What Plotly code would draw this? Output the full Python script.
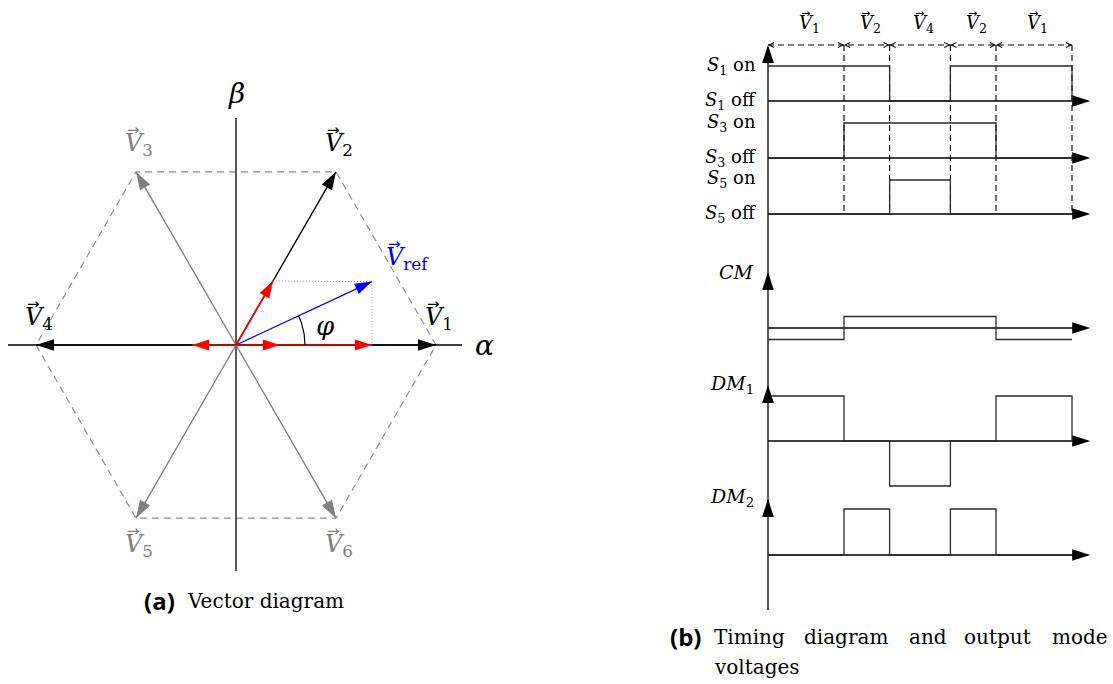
import numpy as np
import plotly.graph_objects as go

# ---------------- data ----------------
# (a) vector diagram, alpha-beta plane, unit = |V_k|
vec_names = ["1", "2", "3", "4", "5", "6"]
vec_angles_deg = [0, 60, 120, 180, 240, 300]
vec_mag = 1.0
vec_active = [True, True, False, True, False, False]   # sector vectors drawn in black
vref_mag = 0.75
vref_phi_deg = 25
# red decomposition arrows: (start_alpha, start_beta, end_alpha, end_beta)
red_start_a = [0.0, 0.22, 0.0, 0.0]
red_start_b = [0.0, 0.0, 0.0, 0.0]
red_end_a = [0.22, 0.68, -0.22, 0.185]
red_end_b = [0.0, 0.0, 0.0, 0.32]

# (b) timing diagram, one switching period T = 1
seg_labels = ["1", "2", "4", "2", "1"]
seg_durations = [0.25, 0.15, 0.20, 0.15, 0.25]
S1 = [1, 1, 0, 1, 1]
S3 = [0, 1, 1, 1, 0]
S5 = [0, 0, 1, 0, 0]
CM = [-0.25, 0.25, 0.25, 0.25, -0.25]
DM1 = [1, 0, -1, 0, 1]
DM2 = [0, 1, 0, 1, 0]

# ---------------- styling / layout constants ----------------
W, H = 1113, 684
SERIF = "DejaVu Serif"
BLACK, GRAY, HEXC, RED, BLUE = "#000000", "#808080", "#8f8f8f", "#ff0000", "#0000ff"

fig = go.Figure()
LA = dict(xaxis="x", yaxis="y")
RA = dict(xaxis="x2", yaxis="y2")


def line(xs, ys, color, width, dash=None, ax=LA, shape="linear"):
    fig.add_trace(go.Scatter(x=list(xs), y=list(ys), mode="lines",
                             line=dict(color=color, width=width, dash=dash, shape=shape),
                             hoverinfo="skip", showlegend=False, **ax))


def head(x, y, angle, color, size, ax=LA):
    fig.add_trace(go.Scatter(x=[x], y=[y], mode="markers",
                             marker=dict(symbol="arrow", size=size, angle=angle, color=color,
                                         line=dict(width=0)),
                             hoverinfo="skip", showlegend=False, **ax))


def chevron(x, y, tx, ty, xref, yref, size=1.4, width=1.0, color=BLACK):
    fig.add_annotation(x=x, y=y, ax=tx, ay=ty, xref=xref, yref=yref, axref=xref, ayref=yref,
                       text="", showarrow=True, arrowhead=5, arrowsize=size,
                       arrowwidth=width, arrowcolor=color)


def text(x, y, s, size, color=BLACK, xref="paper", yref="paper", xanchor="center",
         family=SERIF, xshift=0, yshift=0):
    fig.add_annotation(x=x, y=y, xref=xref, yref=yref, text=s, showarrow=False,
                       xanchor=xanchor, yanchor="middle", xshift=xshift, yshift=yshift,
                       font=dict(family=family, size=size, color=color))


def vec_label(x, y, sub, size, color=BLACK, xref="x", yref="y", xshift=0):
    """V with an arrow accent and subscript; (x, y) + xshift is the left edge."""
    text(x, y, "<i>V</i><sub>%s</sub>" % sub, size, color, xref, yref, xanchor="left",
         xshift=xshift)
    text(x, y, "\u2192", round(size * 0.62), color, xref, yref, xanchor="center",
         family="DejaVu Sans", xshift=xshift + 0.45 * size, yshift=0.6 * size)


# ---------------- (a) vector diagram ----------------
ang = np.radians(vec_angles_deg)
tips_a = vec_mag * np.cos(ang)
tips_b = vec_mag * np.sin(ang)

# hexagon (dashed)
line(list(tips_a) + [tips_a[0]], list(tips_b) + [tips_b[0]], HEXC, 1.2, dash="7px,5px")

# axes
line([-1.14, 1.13], [0, 0], BLACK, 1.3)
chevron(1.13, 0, 1.11, 0, "x", "y", size=1.6)
line([0, 0], [-1.13, 1.135], BLACK, 1.3)
chevron(0, 1.135, 0, 1.115, "x", "y", size=1.6)

# vectors V1..V6
order = [i for i in range(6) if not vec_active[i]] + [i for i in range(6) if vec_active[i]]
for i in order:
    col = BLACK if vec_active[i] else GRAY
    line([0, tips_a[i]], [0, tips_b[i]], col, 1.4)
    head(tips_a[i], tips_b[i], np.degrees(np.arctan2(tips_a[i], tips_b[i])), col, 19)

# reference vector
phi = np.radians(vref_phi_deg)
vr_a, vr_b = vref_mag * np.cos(phi), vref_mag * np.sin(phi)
line([red_end_a[3], vr_a, vr_a], [red_end_b[3], vr_b, 0], "#9a9a9a", 1.0, dash="1px,2px")
line([0, vr_a], [0, vr_b], BLUE, 1.3)
head(vr_a, vr_b, np.degrees(np.arctan2(vr_a, vr_b)), BLUE, 18)

# red decomposition
for sa, sb, ea, eb in zip(red_start_a, red_start_b, red_end_a, red_end_b):
    line([sa, ea], [sb, eb], RED, 1.6)
for sa, sb, ea, eb in zip(red_start_a, red_start_b, red_end_a, red_end_b):
    head(ea, eb, np.degrees(np.arctan2(ea - sa, eb - sb)), RED, 18)

# angle arc
th = np.linspace(0, phi, 30)
line(0.345 * np.cos(th), 0.345 * np.sin(th), BLACK, 1.2)
text(0.445, 0.095, "<i>φ</i>", 26, xref="x", yref="y")

# labels
for i in range(6):
    col = BLACK if vec_active[i] else GRAY
    dy = 0.135 if tips_b[i] >= -1e-9 else -0.135
    vec_label(tips_a[i], tips_b[i] + dy, vec_names[i], 24, col, xshift=-13)
vec_label(vr_a, vr_b + 0.115, "ref", 24, BLUE, xshift=12)
text(1.24, 0.0, "<i>α</i>", 28, xref="x", yref="y")
text(0.0, 1.26, "<i>β</i>", 28, xref="x", yref="y")

# caption (a)
text(159 / W, 1 - 600 / H, "<b>(a)</b>", 24, family="Open Sans")
text(185 / W, 1 - 601 / H, "Vector diagram", 20, xanchor="left")

# ---------------- (b) timing diagram ----------------
bounds = np.concatenate([[0.0], np.cumsum(seg_durations)])
T_END = bounds[-1]
T_TIP = 1.06

rows = [  # name, values, baseline (px from top), amplitude (px), drop at end
    ("S1", S1, 101, 35, True),
    ("S3", S3, 158, 35, True),
    ("S5", S5, 214, 34, True),
    ("CM", CM, 328, 46, False),
    ("DM1", DM1, 441, 45, True),
    ("DM2", DM2, 555, 46, True),
]

# top timeline (dashed) and vertical dashed markers
line([0, T_END], [45, 45], BLACK, 1.1, dash="6px,4px", ax=RA)
for b in bounds[1:]:
    line([b, b], [45, 214], BLACK, 1.1, dash="6px,4px", ax=RA)
d = 4 / 304
for a, b in zip(bounds[:-1], bounds[1:]):
    chevron(b, 45, b - d, 45, "x2", "y2", size=1.1, width=0.9)
    chevron(a, 45, a + d, 45, "x2", "y2", size=1.1, width=0.9)
for a, b, lab in zip(bounds[:-1], bounds[1:], seg_labels):
    vec_label((a + b) / 2, 24, lab, 18, xref="x2", yref="y2", xshift=-9)

# vertical axis
line([0, 0], [610, 47], BLACK, 1.3, ax=RA)
head(0, 45, 0, BLACK, 19, ax=RA)

for name, vals, base, amp, drop in rows:
    # baseline with arrow
    line([0, T_TIP - 0.02], [base, base], BLACK, 1.4, ax=RA)
    head(T_TIP, base, 90, BLACK, 19, ax=RA)
    xs = list(bounds)
    ys = [base - amp * v for v in vals] + [base - amp * vals[-1]]
    if drop and vals[-1] != 0:
        xs.append(T_END)
        ys.append(base)
    line(xs, ys, "#2a2a2a", 1.3, ax=RA, shape="hv")

# row axis heads for output mode voltages
for name, vals, base, amp, drop in rows[3:]:
    head(0, base - 56, 0, BLACK, 19, ax=RA)

# row labels
for name, vals, base, amp, drop in rows[:3]:
    text(-0.033, base - 35, "<i>S</i><sub>%s</sub> on" % name[1], 18, xref="x2", yref="y2",
         xanchor="right")
    text(-0.033, base, "<i>S</i><sub>%s</sub> off" % name[1], 18, xref="x2", yref="y2",
         xanchor="right")
text(-0.04, 272, "<i>CM</i>", 19, xref="x2", yref="y2", xanchor="right")
text(-0.04, 384, "<i>DM</i><sub>1</sub>", 19, xref="x2", yref="y2", xanchor="right")
text(-0.04, 497, "<i>DM</i><sub>2</sub>", 19, xref="x2", yref="y2", xanchor="right")

# caption (b)
text(685 / W, 1 - 636 / H, "<b>(b)</b>", 24, family="Open Sans")
for word, px in [("Timing", 712), ("diagram", 802), ("and", 907), ("output", 962), ("mode", 1050)]:
    text(px / W, 1 - 637 / H, word, 20, xanchor="left")
text(712 / W, 1 - 667 / H, "voltages", 20, xanchor="left")

# ---------------- layout ----------------
ax_common = dict(visible=False, showgrid=False, zeroline=False, fixedrange=True)
fig.update_layout(
    width=W, height=H, margin=dict(l=0, r=0, t=0, b=0),
    paper_bgcolor="white", plot_bgcolor="white", showlegend=False,
    xaxis=dict(range=[-236 / 200, (W - 236) / 200], domain=[0, 1], **ax_common),
    yaxis=dict(range=[-(H - 345) / 200, 345 / 200], domain=[0, 1], **ax_common),
    xaxis2=dict(range=[-768 / 304, (W - 768) / 304], domain=[0, 1], anchor="y2",
                overlaying="x", **ax_common),
    yaxis2=dict(range=[H, 0], domain=[0, 1], anchor="x2", overlaying="y", **ax_common),
)

fig.write_html("out.html")
